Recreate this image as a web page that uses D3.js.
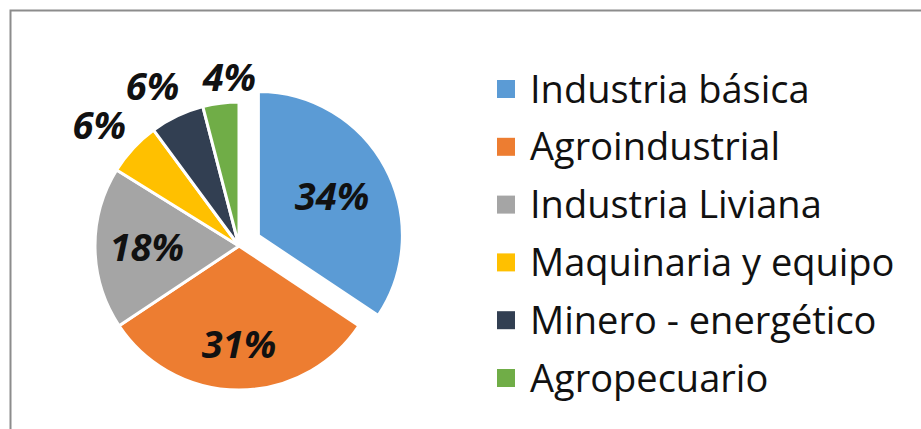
<!DOCTYPE html>
<html>
<head>
<meta charset="utf-8">
<script src="https://cdn.jsdelivr.net/npm/d3@7"></script>
<style>
  body { margin: 0; background: #fff; }
  svg { display: block; }
</style>
</head>
<body>
<div id="chart"></div>
<script>
// Sector shares (%)
var categories = ["Industria básica", "Agroindustrial", "Industria Liviana", "Maquinaria y equipo", "Minero - energético", "Agropecuario"];
var values = [34, 31, 18, 6, 6, 4];
var colors = ["#5b9bd5", "#ed7d31", "#a5a5a5", "#ffc000", "#323f52", "#70ad47"];

var w = 921, h = 429;
var cx = 239, cy = 246, radius = 144;
var pull = 22;

var svg = d3.select("#chart").append("svg")
  .attr("width", w)
  .attr("height", h);

// frame
svg.append("path")
  .attr("d", "M10.5," + h + " V10.5 H" + w)
  .attr("fill", "none")
  .attr("stroke", "#8c8c8c")
  .attr("stroke-width", 2);

var pie = d3.pie().sort(null).value(function(d) { return d; });
var arc = d3.arc().innerRadius(0).outerRadius(radius);
var arcs = pie(values);

var g = svg.append("g").attr("transform", "translate(" + cx + "," + cy + ")");

function polar(a, r) {
  return [Math.sin(a) * r, -Math.cos(a) * r];
}

// first slice is pulled out
function offset(d, i) {
  if (i !== 0) return [0, 0];
  return polar((d.startAngle + d.endAngle) / 2, pull);
}

g.selectAll("path.slice")
  .data(arcs)
  .enter()
  .append("path")
  .attr("class", "slice")
  .attr("d", arc)
  .attr("transform", function(d, i) { return "translate(" + offset(d, i) + ")"; })
  .attr("fill", function(d, i) { return colors[i]; })
  .attr("stroke", "#fff")
  .attr("stroke-width", 3)
  .attr("stroke-linejoin", "round");

// label placement: radius factor and angle nudge (deg); small slices sit outside
var labelR = [0.58, 0.68, 0.64, 1.28, 1.26, 1.17];
var labelShift = [0, 0, 0, -2, -3, 4];
g.selectAll("text.pct")
  .data(arcs)
  .enter()
  .append("text")
  .attr("class", "pct")
  .attr("transform", function(d, i) {
    var a = (d.startAngle + d.endAngle) / 2 + labelShift[i] * Math.PI / 180;
    var p = polar(a, radius * labelR[i]), o = offset(d, i);
    return "translate(" + (p[0] + o[0]) + "," + (p[1] + o[1]) + ")";
  })
  .attr("text-anchor", "middle")
  .attr("dy", "0.36em")
  .style("font-family", "'Open Sans', sans-serif")
  .style("font-weight", "bold")
  .style("font-style", "italic")
  .style("font-size", "38px")
  .attr("fill", "#111")
  .text(function(d) { return d.data + "%"; });

// legend
var legend = svg.append("g").attr("transform", "translate(497,0)");
var rowY = d3.scalePoint().domain(categories).range([89, 378]);

var rows = legend.selectAll("g.row")
  .data(categories)
  .enter()
  .append("g")
  .attr("class", "row")
  .attr("transform", function(d) { return "translate(0," + rowY(d) + ")"; });

rows.append("rect")
  .attr("x", 0)
  .attr("y", -9)
  .attr("width", 18)
  .attr("height", 18)
  .attr("fill", function(d, i) { return colors[i]; });

rows.append("text")
  .attr("x", 33)
  .attr("dy", "0.36em")
  .style("font-family", "'Open Sans', sans-serif")
  .style("font-size", "38px")
  .attr("fill", "#111")
  .text(function(d) { return d; });
</script>
</body>
</html>
